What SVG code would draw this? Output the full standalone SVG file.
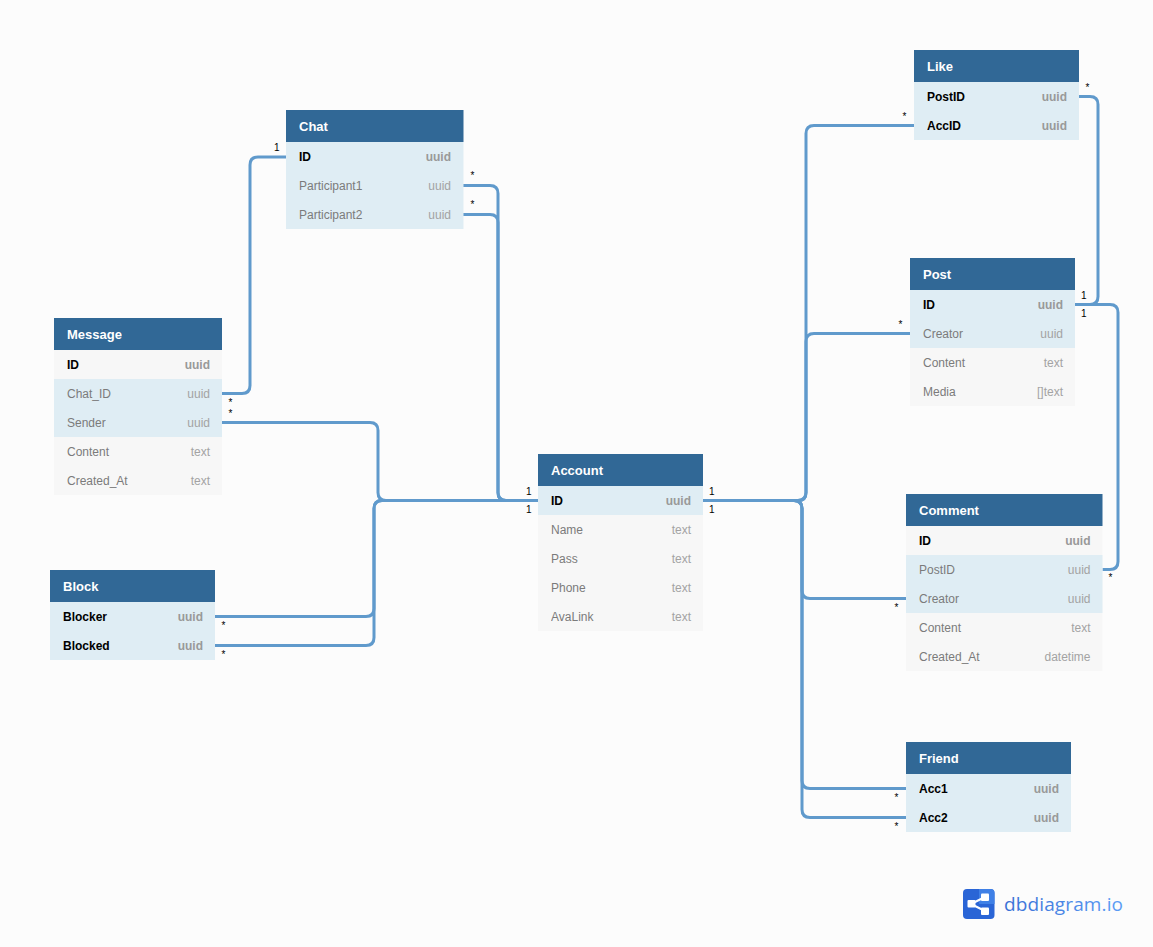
<svg xmlns="http://www.w3.org/2000/svg" width="1153" height="947" viewBox="0 0 1153 947">
<style>
text{font-family:"Liberation Sans",Arial,sans-serif;font-size:12px;opacity:.999}
.h{fill:#316896}
.t{fill:#fff;font-weight:700;font-size:13px}
.b{fill:#dfedf4}
.g{fill:#f7f7f7}
.n{fill:#7b7b7b}
.k{fill:#000;font-weight:700}
.v{fill:#a3a3a3;text-anchor:end}
.kv{fill:#999;font-weight:700;text-anchor:end}
#connectors path{fill:none;stroke:#609acc;stroke-width:3}
.c{font-size:10px;fill:#000}
</style>
<defs>
<linearGradient id="lg" x1="0" y1="0" x2="1" y2="0"><stop offset="0" stop-color="#3a70d6"/><stop offset="1" stop-color="#5c9df5"/></linearGradient>
</defs>
<rect width="1153" height="947" fill="#fcfcfc"/>
<g id="connectors">
<path d="M222 393.500H242Q250 393.500 250 385.500V165Q250 157 258 157H286"/>
<path d="M222 422.500H370Q378 422.500 378 430.500V492.500Q378 500.500 386 500.500H538"/>
<path d="M215 616.500H366Q374 616.500 374 608.500V508.500Q374 500.500 382 500.500H538"/>
<path d="M215 645.500H366Q374 645.500 374 637.500V508.500Q374 500.500 382 500.500H538"/>
<path d="M463 185.500H490Q498 185.500 498 193.500V492.500Q498 500.500 506 500.500H538"/>
<path d="M463 214.500H490Q498 214.500 498 222.500V492.500Q498 500.500 506 500.500H538"/>
<path d="M703 500.500H798Q806 500.500 806 492.500V133.500Q806 125.500 814 125.500H914"/>
<path d="M703 500.500H798Q806 500.500 806 492.500V341.500Q806 333.500 814 333.500H910"/>
<path d="M703 500.500H794Q802 500.500 802 508.500V590.500Q802 598.500 810 598.500H906"/>
<path d="M703 500.500H794Q802 500.500 802 508.500V780.500Q802 788.500 810 788.500H906"/>
<path d="M703 500.500H794Q802 500.500 802 508.500V809.500Q802 817.500 810 817.500H906"/>
<path d="M1075 304.500H1090Q1098 304.500 1098 296.500V104.500Q1098 96.500 1090 96.500H1079"/>
<path d="M1075 304.500H1110Q1118 304.500 1118 312.500V561.500Q1118 569.500 1110 569.500H1102"/>
</g>
<g id="cardinalities">
<text class="c" x="274" y="151">1</text>
<text class="c" x="470.500" y="179">*</text>
<text class="c" x="470.500" y="208">*</text>
<text class="c" x="228.500" y="406">*</text>
<text class="c" x="228.500" y="417">*</text>
<text class="c" x="221.500" y="629">*</text>
<text class="c" x="221.500" y="658">*</text>
<text class="c" x="526" y="495">1</text>
<text class="c" x="526" y="513">1</text>
<text class="c" x="709" y="495">1</text>
<text class="c" x="709" y="513">1</text>
<text class="c" x="902.500" y="120">*</text>
<text class="c" x="898.500" y="328">*</text>
<text class="c" x="894.500" y="611">*</text>
<text class="c" x="894.500" y="801">*</text>
<text class="c" x="894.500" y="830">*</text>
<text class="c" x="1085.500" y="91">*</text>
<text class="c" x="1081" y="299">1</text>
<text class="c" x="1081" y="317">1</text>
<text class="c" x="1108.500" y="581">*</text>
</g>
<g id="chat">
<rect class="h" x="286" y="110" width="177.500" height="32"/><text class="t" x="299" y="131">Chat</text>
<rect class="b" x="286" y="142" width="177.500" height="87"/>
<text class="k" x="299" y="161">ID</text><text class="kv" x="451" y="161">uuid</text>
<text class="n" x="299" y="190">Participant1</text><text class="v" x="451" y="190">uuid</text>
<text class="n" x="299" y="219">Participant2</text><text class="v" x="451" y="219">uuid</text>
</g>
<g id="message">
<rect class="h" x="54" y="318" width="168" height="32"/><text class="t" x="67" y="339">Message</text>
<rect class="g" x="54" y="350" width="168" height="145"/><rect class="b" x="54" y="379" width="168" height="58"/>
<text class="k" x="67" y="369">ID</text><text class="kv" x="210" y="369">uuid</text>
<text class="n" x="67" y="398">Chat_ID</text><text class="v" x="210" y="398">uuid</text>
<text class="n" x="67" y="427">Sender</text><text class="v" x="210" y="427">uuid</text>
<text class="n" x="67" y="456">Content</text><text class="v" x="210" y="456">text</text>
<text class="n" x="67" y="485">Created_At</text><text class="v" x="210" y="485">text</text>
</g>
<g id="block">
<rect class="h" x="50" y="570" width="165" height="32"/><text class="t" x="63" y="591">Block</text>
<rect class="b" x="50" y="602" width="165" height="58"/>
<text class="k" x="63" y="621">Blocker</text><text class="kv" x="203" y="621">uuid</text>
<text class="k" x="63" y="650">Blocked</text><text class="kv" x="203" y="650">uuid</text>
</g>
<g id="account">
<rect class="h" x="538" y="454" width="165" height="32"/><text class="t" x="551" y="475">Account</text>
<rect class="g" x="538" y="486" width="165" height="145"/><rect class="b" x="538" y="486" width="165" height="29"/>
<text class="k" x="551" y="505">ID</text><text class="kv" x="691" y="505">uuid</text>
<text class="n" x="551" y="534">Name</text><text class="v" x="691" y="534">text</text>
<text class="n" x="551" y="563">Pass</text><text class="v" x="691" y="563">text</text>
<text class="n" x="551" y="592">Phone</text><text class="v" x="691" y="592">text</text>
<text class="n" x="551" y="621">AvaLink</text><text class="v" x="691" y="621">text</text>
</g>
<g id="like">
<rect class="h" x="914" y="50" width="165" height="32"/><text class="t" x="927" y="71">Like</text>
<rect class="b" x="914" y="82" width="165" height="58"/>
<text class="k" x="927" y="101">PostID</text><text class="kv" x="1067" y="101">uuid</text>
<text class="k" x="927" y="130">AccID</text><text class="kv" x="1067" y="130">uuid</text>
</g>
<g id="post">
<rect class="h" x="910" y="258" width="165" height="32"/><text class="t" x="923" y="279">Post</text>
<rect class="g" x="910" y="290" width="165" height="116"/><rect class="b" x="910" y="290" width="165" height="58"/>
<text class="k" x="923" y="309">ID</text><text class="kv" x="1063" y="309">uuid</text>
<text class="n" x="923" y="338">Creator</text><text class="v" x="1063" y="338">uuid</text>
<text class="n" x="923" y="367">Content</text><text class="v" x="1063" y="367">text</text>
<text class="n" x="923" y="396">Media</text><text class="v" x="1063" y="396">[]text</text>
</g>
<g id="comment">
<rect class="h" x="906" y="494" width="196.500" height="32"/><text class="t" x="919" y="515">Comment</text>
<rect class="g" x="906" y="526" width="196.500" height="145"/><rect class="b" x="906" y="555" width="196.500" height="58"/>
<text class="k" x="919" y="545">ID</text><text class="kv" x="1090.500" y="545">uuid</text>
<text class="n" x="919" y="574">PostID</text><text class="v" x="1090.500" y="574">uuid</text>
<text class="n" x="919" y="603">Creator</text><text class="v" x="1090.500" y="603">uuid</text>
<text class="n" x="919" y="632">Content</text><text class="v" x="1090.500" y="632">text</text>
<text class="n" x="919" y="661">Created_At</text><text class="v" x="1090.500" y="661">datetime</text>
</g>
<g id="friend">
<rect class="h" x="906" y="742" width="165" height="32"/><text class="t" x="919" y="763">Friend</text>
<rect class="b" x="906" y="774" width="165" height="58"/>
<text class="k" x="919" y="793">Acc1</text><text class="kv" x="1059" y="793">uuid</text>
<text class="k" x="919" y="822">Acc2</text><text class="kv" x="1059" y="822">uuid</text>
</g>
<g id="logo">
<rect x="963" y="889" width="31.500" height="30" rx="4" fill="#2a65d6"/>
<path d="M979 889H990.500Q994.500 889 994.500 893V904H979Z" fill="#3f80e6"/>
<path d="M971 904L985 897M971 904L985 911" stroke="#fff" stroke-width="2" fill="none"/>
<rect x="967.500" y="900" width="8" height="7.500" rx="1" fill="#fff"/><rect x="981" y="893.500" width="8" height="7.500" rx="1" fill="#fff"/><rect x="981" y="907.500" width="8" height="7.500" rx="1" fill="#fff"/>
<text x="1004" y="910.500" textLength="119" fill="url(#lg)" style="font-family:'Open Sans','Liberation Sans',sans-serif;font-size:19px;font-weight:500">dbdiagram.io</text>
</g>
</svg>
